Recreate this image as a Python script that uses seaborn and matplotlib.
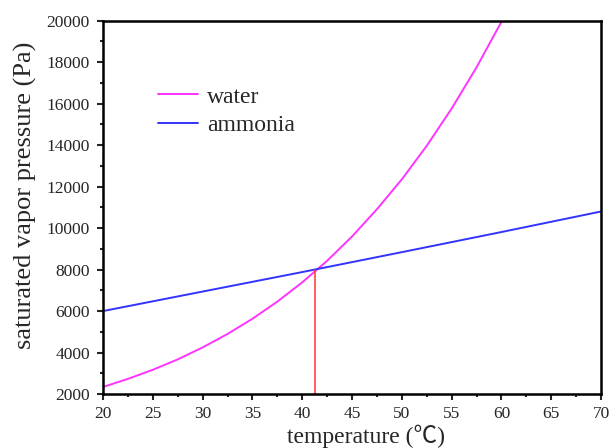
import numpy as np
import pandas as pd
import matplotlib
matplotlib.use("Agg")
import matplotlib.pyplot as plt
import seaborn as sns

# 水和氨的饱和蒸气压
water_t = [20, 22.5, 25, 27.5, 30, 32.5, 35, 37.5, 40, 42.5, 45, 47.5, 50, 52.5, 55, 57.5, 60]
water_p = [2339, 2730, 3169, 3669, 4246, 4895, 5628, 6455, 7384, 8422, 9595, 10909,
           12352, 13966, 15763, 17751, 19946]
ammonia_t = [20, 30, 40, 50, 60, 70]
ammonia_p = [6000, 6940, 7880, 8840, 9810, 10800]
cross_t = 41.3
cross_p = 8000

sns.set_theme(style="white")
plt.rcParams["font.family"] = ["Liberation Serif", "Noto Sans CJK SC", "DejaVu Sans"]

df_w = pd.DataFrame({"t": water_t, "p": water_p})
df_a = pd.DataFrame({"t": ammonia_t, "p": ammonia_p})

fig = plt.figure(figsize=(6.1, 4.48), dpi=100)
ax = fig.add_axes([0.1689, 0.1205, 0.8164, 0.8333])

sns.lineplot(data=df_w, x="t", y="p", color="#ff33ff", linewidth=1.4, label="water", ax=ax)
sns.lineplot(data=df_a, x="t", y="p", color="#3333ff", linewidth=1.4, label="ammonia", ax=ax)
ax.plot([cross_t, cross_t], [2000, cross_p], color="#ff3333", linewidth=1.1)

ax.set_xlim(20, 70)
ax.set_ylim(2000, 20000)
ax.set_xticks(np.arange(20, 71, 5))
ax.set_yticks(np.arange(2000, 20001, 2000))
ax.set_xticks(np.arange(22.5, 70, 5), minor=True)
ax.set_yticks(np.arange(3000, 20000, 2000), minor=True)
ax.tick_params(which="major", direction="out", length=4, width=1.5, labelsize=12.5,
               bottom=True, left=True, top=False, right=False)
ax.tick_params(axis="x", which="major", pad=4.5)
ax.tick_params(axis="y", which="major", pad=5.5)
ax.tick_params(which="minor", direction="out", length=2.5, width=1.5,
               bottom=True, left=True, top=False, right=False)
for s in ax.spines.values():
    s.set_linewidth(1.8)
    s.set_color("black")

ax.set_xlabel("temperature (℃)", fontsize=17)
ax.set_ylabel("saturated vapor pressure (Pa)", fontsize=19)
ax.xaxis.set_label_coords(0.528, -0.082)
ax.yaxis.set_label_coords(-0.1325, 0.533)

ax.legend(loc="upper left", bbox_to_anchor=(0.110, 0.825), frameon=False, fontsize=17,
          borderpad=0, borderaxespad=0, handlelength=1.7, handletextpad=0.4,
          labelspacing=0.3)

fig.savefig("out.png", dpi=100)
